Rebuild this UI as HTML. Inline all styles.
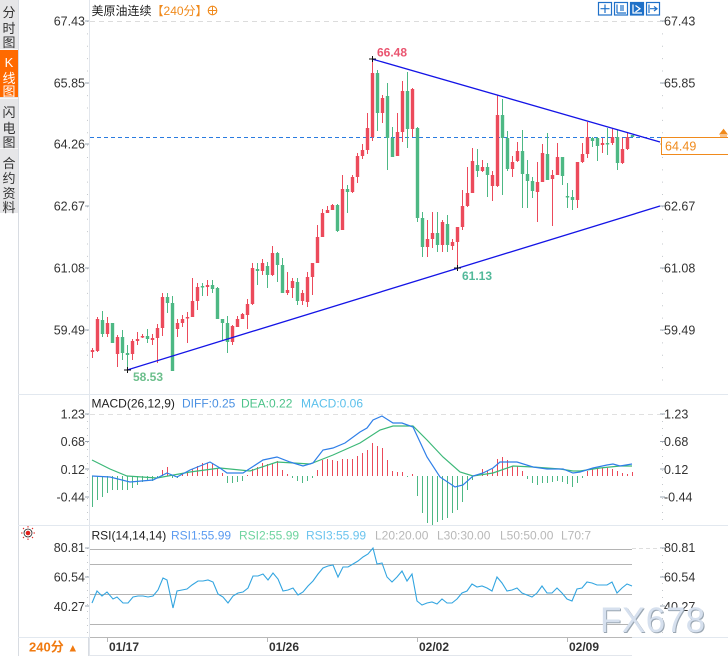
<!DOCTYPE html>
<html><head><meta charset="utf-8"><style>
html,body{margin:0;padding:0;background:#fff;width:728px;height:656px;overflow:hidden}
svg{display:block}
text{font-family:"Liberation Sans","Noto Sans CJK SC",sans-serif}
</style></head><body>
<svg width="728" height="656" viewBox="0 0 728 656" xmlns="http://www.w3.org/2000/svg">
<rect x="0" y="0" width="728" height="656" fill="#fff"/>
<!-- sidebar -->
<rect x="0" y="0" width="18" height="213" fill="#e6e6e8"/>
<rect x="0" y="50" width="18" height="47" fill="#ff6a00"/>
<path d="M0 49.5H18M0 98.5H18M0 148.5H18" stroke="#f7f7f7" stroke-width="1"/>
<line x1="18.5" y1="0" x2="18.5" y2="656" stroke="#d8dce2"/>
<g font-size="13" fill="#333" text-anchor="middle">
<text x="9" y="17">分</text><text x="9" y="33">时</text><text x="9" y="47">图</text>
<text x="9" y="67" fill="#fff" font-family="Liberation Serif,serif">K</text><text x="9" y="83" fill="#fff">线</text><text x="9" y="96" fill="#fff">图</text>
<text x="9" y="117">闪</text><text x="9" y="133">电</text><text x="9" y="147">图</text>
<text x="9" y="168">合</text><text x="9" y="183">约</text><text x="9" y="198">资</text><text x="9" y="212">料</text>
</g>
<!-- axis lines / separators -->
<line x1="89.5" y1="0" x2="89.5" y2="656" stroke="#e2e6ec"/>
<line x1="18" y1="394.5" x2="728" y2="394.5" stroke="#e2e8ef"/>
<line x1="18" y1="525.5" x2="728" y2="525.5" stroke="#e2e8ef"/>
<line x1="18" y1="637.5" x2="728" y2="637.5" stroke="#e2e8ef"/>
<line x1="90" y1="637.5" x2="632" y2="637.5" stroke="#b8b8b8"/>
<line x1="90" y1="655.5" x2="632" y2="655.5" stroke="#e2e6ec"/>
<line x1="88.5" y1="637" x2="88.5" y2="656" stroke="#d8dce2"/>
<!-- minor ticks -->
<line x1="87.5" y1="21" x2="87.5" y2="390" stroke="#c4c8cc" stroke-dasharray="1 11.36"/>
<line x1="662.5" y1="21" x2="662.5" y2="390" stroke="#c4c8cc" stroke-dasharray="1 11.36"/>
<line x1="87.5" y1="414" x2="87.5" y2="522" stroke="#c4c8cc" stroke-dasharray="1 6"/>
<line x1="662.5" y1="414" x2="662.5" y2="522" stroke="#c4c8cc" stroke-dasharray="1 6"/>
<line x1="87.5" y1="548" x2="87.5" y2="636" stroke="#c4c8cc" stroke-dasharray="1 6"/>
<line x1="662.5" y1="548" x2="662.5" y2="636" stroke="#c4c8cc" stroke-dasharray="1 6"/>
<path d="M85 21H89M85 83H89M85 144H89M85 206H89M85 268H89M85 330H89M85 414H89M85 441.5H89M85 469H89M85 497H89M85 548H89M85 577H89M85 606H89" stroke="#9aa4b0"/>
<path d="M660 21H665M660 83H665M660 144H665M660 206H665M660 268H665M660 330H665M660 414H665M660 441.5H665M660 469H665M660 497H665M660 548H665M660 577H665M660 606H665" stroke="#9aa4b0"/>
<!-- title -->
<text x="91.5" y="15" font-size="12" fill="#222">美原油连续<tspan fill="#f08a1c">【240分】</tspan></text>
<circle cx="212.5" cy="10.5" r="4.3" fill="none" stroke="#f08a1c" stroke-width="1.1"/>
<path d="M208.2 10.5H216.8M212.5 6.2V14.8" stroke="#f08a1c" stroke-width="1"/>
<!-- toolbar icons -->
<g stroke="#1e70c8" fill="none" stroke-width="1.2">
<rect x="598.5" y="2.5" width="13" height="12.5"/>
<path d="M605 4.5V13M600.5 8.7H609.5"/>
<rect x="614.5" y="2.5" width="13" height="12.5"/>
<path d="M617 4.5V13M617 13H626M621 5V11M623 5V11"/>
<rect x="630.5" y="2.5" width="13" height="12.5" fill="#1e70c8"/>
<path d="M633 4.5V13H642M635.5 5.5L640 8.7L635.5 12" stroke="#fff"/>
<rect x="646.5" y="2.5" width="13" height="12.5"/>
<path d="M649 4.5V13M650 8.7H656M654 6.5L657 8.7L654 11"/>
</g>
<!-- main grid -->
<line x1="90" y1="21.5" x2="660" y2="21.5" stroke="#dcdcdc" stroke-dasharray="5 4"/>
<line x1="90" y1="137.5" x2="661" y2="137.5" stroke="#2a7be0" stroke-dasharray="4 3"/>
<!-- main axis labels -->
<g font-size="12.5" fill="#333">
<g text-anchor="end">
<text x="85" y="25.5">67.43</text><text x="85" y="87.5">65.85</text><text x="85" y="148.5">64.26</text><text x="85" y="210.5">62.67</text><text x="85" y="272.5">61.08</text><text x="85" y="334.5">59.49</text>
<text x="85" y="418.5">1.23</text><text x="85" y="446">0.68</text><text x="85" y="474">0.12</text><text x="85" y="501.5">-0.44</text>
<text x="85" y="552">80.81</text><text x="85" y="581.5">60.54</text><text x="85" y="611">40.27</text>
</g>
<text x="664" y="25.5">67.43</text><text x="664" y="87.5">65.85</text><text x="664" y="210.5">62.67</text><text x="664" y="272.5">61.08</text><text x="664" y="334.5">59.49</text>
<text x="664" y="418.5">1.23</text><text x="664" y="446">0.68</text><text x="664" y="474">0.12</text><text x="664" y="501.5">-0.44</text>
<text x="664" y="552">80.81</text><text x="664" y="581.5">60.54</text><text x="664" y="611">40.27</text>
</g>
<!-- current price box -->
<rect x="661.5" y="137.5" width="70" height="17" fill="#fff" stroke="#f08a1c"/>
<text x="665" y="150.5" font-size="12.5" fill="#f08a1c">64.49</text>
<path d="M720 136H727M723.5 129.5L720 134H727Z" fill="#f08a1c" stroke="#f08a1c" stroke-width="1"/>
<!-- candles -->
<g stroke="#ec4a5b" fill="none">
<path stroke-width="1" d="M92.5 348V358M97.5 317V352M107.5 317V337M117.5 335V367M132.5 339V360M137.5 332V345M142.5 334V338M152.5 334V345M157.5 324V363M162.5 293V336M177.5 319V337M182.5 315V327M187.5 312V343M192.5 278V317M197.5 283V310M207.5 280V296M232.5 325V345M237.5 316V327M242.5 313V319M247.5 299V329M252.5 263V305M262.5 259V275M272.5 246V276M287.5 272V295M292.5 278V298M302.5 290V305M307.5 272V307M312.5 263V295M317.5 225V263M322.5 209V237M327.5 206V213M332.5 204V210M342.5 175V230M352.5 175V193M357.5 153V183M362.5 144V159M367.5 113V154M372.5 58V141M382.5 95V123M397.5 113V156M402.5 81V142M412.5 88V137M427.5 220V257M432.5 212V248M442.5 220V252M452.5 239V250M457.5 227V268M462.5 190V230M467.5 167V207M472.5 148V193M482.5 160V172M492.5 171V201M497.5 95V187M512.5 156V177M517.5 142V162M537.5 162V222M542.5 144V182M552.5 170V226M557.5 143V175M577.5 162V208M582.5 143V163M587.5 122V158M602.5 138V153M612.5 128V145M622.5 138V164M627.5 132V150"/>
<path stroke-width="3.4" d="M92.5 350V352M97.5 319V351M107.5 323V334M117.5 337V354M132.5 341V354M137.5 339V341M142.5 336V337.5M152.5 338V340M157.5 328V338M162.5 297V328M177.5 323V329M182.5 319V323M187.5 317V318.5M192.5 301V317M197.5 287V301M207.5 285V287M232.5 326V342M237.5 319V327M242.5 314V319M247.5 304V315M252.5 268V304M262.5 263V271M272.5 253V275M287.5 290V293M292.5 281V288M302.5 293V301M307.5 277V302M312.5 263V277M317.5 237V263M322.5 213V237M327.5 210V213M332.5 205V210M342.5 189V230M352.5 177V192M357.5 156V177M362.5 150V156M367.5 128V150M372.5 73V137M382.5 98V113M397.5 132V156M402.5 91V132M412.5 89V129M427.5 239V247M432.5 233V239M442.5 222V245M452.5 242V246M457.5 227V242M462.5 206V227M467.5 193V206M472.5 161V193M482.5 167V171M492.5 175V186M497.5 115V186M512.5 162V169M517.5 151V161M537.5 182V192M542.5 153V182M552.5 175V179M557.5 157V175M577.5 162V200M582.5 154V162M587.5 137V154M602.5 143V145M612.5 137V143M622.5 149V163M627.5 137V149"/>
</g>
<g stroke="#4db884" fill="none">
<path stroke-width="1" d="M102.5 311V337M112.5 323V343M122.5 330V360M127.5 345V370M147.5 329V343M167.5 293V313M172.5 296V371M202.5 283V296M212.5 280V293M217.5 287V319M222.5 319V340M227.5 316V353M257.5 263V285M267.5 262V288M277.5 252V282M282.5 258V293M297.5 278V305M337.5 204V232M347.5 185V213M377.5 70V131M387.5 83V170M392.5 127V157M407.5 72V148M417.5 127V222M422.5 212V257M437.5 212V252M447.5 215V252M477.5 149V177M487.5 163V197M502.5 99V195M507.5 131V171M522.5 130V208M527.5 160V208M532.5 177V198M547.5 133V180M562.5 157V185M567.5 183V208M572.5 190V210M592.5 137V147M597.5 137V161M607.5 128V155M617.5 130V170M632.5 135V137"/>
<path stroke-width="3.4" d="M102.5 320V334M112.5 323V343M122.5 337V353M127.5 353V355M147.5 336V339M167.5 297V303M172.5 303V371M202.5 286V287.5M212.5 285V289M217.5 288V319M222.5 319V323M227.5 323V342M257.5 269V271M267.5 266V275M277.5 253V265M282.5 265V293M297.5 282V301M337.5 205V231M347.5 189V192M377.5 73V113M387.5 96V138M392.5 138V157M407.5 91V129M417.5 128V218M422.5 218V247M437.5 233V245M447.5 224V245M477.5 165V171M487.5 167V175M502.5 115V138M507.5 138V169M522.5 151V174M527.5 174V181M532.5 181V191M547.5 154V180M562.5 157V176M567.5 196V197.5M572.5 197V200M592.5 138V141M597.5 138V146M607.5 143V144.5M617.5 137V163M632.5 135V137"/>
</g>
<!-- trend lines -->
<line x1="372" y1="59" x2="660" y2="142" stroke="#1414e6" stroke-width="1.3"/>
<line x1="127" y1="370" x2="660" y2="206" stroke="#1414e6" stroke-width="1.3"/>
<path d="M369 59H376M372.5 56V62M124 370H131M127.5 367V373M454 268H461M457.5 265V271" stroke="#111" stroke-width="1"/>
<text x="377" y="56.5" font-size="12" font-weight="bold" fill="#ea5570">66.48</text>
<text x="462" y="280" font-size="12" font-weight="bold" fill="#52b99a">61.13</text>
<text x="133" y="381" font-size="12" font-weight="bold" fill="#6cbf8c">58.53</text>
<!-- MACD panel -->
<text x="91.5" y="407.5" font-size="12" fill="#222">MACD(26,12,9)</text>
<text x="182" y="407.5" font-size="12" fill="#4a90e2">DIFF:0.25</text>
<text x="241" y="407.5" font-size="12" fill="#4cc38a">DEA:0.22</text>
<text x="301" y="407.5" font-size="12" fill="#5bc0eb">MACD:0.06</text>
<line x1="90" y1="414.5" x2="660" y2="414.5" stroke="#e0e0e0" stroke-dasharray="5 4"/>
<path stroke="#eb4a5a" stroke-width="1" d="M162.5 476V470M167.5 476V467M182.5 476V473M187.5 476V473M192.5 476V469M197.5 476V466M202.5 476V463M207.5 476V463M212.5 476V463M217.5 476V469M222.5 476V473M247.5 476V475M252.5 476V469M257.5 476V467M262.5 476V463M267.5 476V464M272.5 476V463M277.5 476V461M282.5 476V470M287.5 476V474M317.5 476V470M322.5 476V460M327.5 476V459M332.5 476V460M337.5 476V461M342.5 476V459M347.5 476V459M352.5 476V459M357.5 476V456M362.5 476V453M367.5 476V450M372.5 476V443M377.5 476V446M382.5 476V448M387.5 476V460M392.5 476V471M397.5 476V472M402.5 476V472M412.5 476V474M477.5 476V475M482.5 476V469M487.5 476V471M492.5 476V469M497.5 476V459M502.5 476V457M507.5 476V460M512.5 476V466M517.5 476V466M522.5 476V471M587.5 476V471M592.5 476V469M597.5 476V468M602.5 476V468M607.5 476V468M612.5 476V469M617.5 476V471M622.5 476V473M627.5 476V474M632.5 476V472"/>
<path stroke="#4db884" stroke-width="1" d="M92.5 476V507M97.5 476V500M102.5 476V497M107.5 476V493M112.5 476V490M117.5 476V490M122.5 476V490M127.5 476V490M132.5 476V488M137.5 476V485M142.5 476V482M147.5 476V481M152.5 476V481M157.5 476V478M172.5 476V478M177.5 476V478M227.5 476V483M232.5 476V483M237.5 476V482M242.5 476V481M292.5 476V478M297.5 476V481M302.5 476V483M307.5 476V481M312.5 476V478M407.5 476V477M417.5 476V496M422.5 476V513M427.5 476V523M432.5 476V525M437.5 476V522M442.5 476V520M447.5 476V518M452.5 476V513M457.5 476V510M462.5 476V502M467.5 476V490M472.5 476V480M527.5 476V479M532.5 476V483M537.5 476V485M542.5 476V483M547.5 476V483M552.5 476V482M557.5 476V481M562.5 476V482M567.5 476V484M572.5 476V487M577.5 476V483M582.5 476V478"/>
<polyline fill="none" stroke="#3cb878" stroke-width="1.2" points="92,460 110,469 127,476 157,478 190,472 220,468 250,471 277,462 310,464 333,455 360,443 380,430 393,426 413,426 427,440 443,457 460,472 473,476 493,473 513,466 533,467 560,469 573,471 580,471 600,468 620,466 632,466"/>
<polyline fill="none" stroke="#2f7fe8" stroke-width="1.2" points="92,476 110,477 130,482 153,480 167,473 177,477 190,470 210,462 220,468 227,473 243,473 263,460 277,457 290,462 303,466 313,463 323,450 333,448 345,443 360,432 367,428 373,420 382,416 393,423 402,423 413,427 427,457 440,477 455,487 463,485 473,476 483,473 493,468 500,462 517,462 533,467 547,469 563,469 573,473 580,472 593,468 607,465 613,464 620,466 632,464"/>
<!-- RSI panel -->
<g transform="translate(28,533)">
<circle r="2.3" fill="#e0201c"/><circle r="4" fill="none" stroke="#222" stroke-width="0.8"/>
<path d="M0 -7V-5.5M0 5.5V7M-7 0H-5.5M5.5 0H7M-5 -5L-4 -4M4 4L5 5M-5 5L-4 4M4 -4L5 -5" stroke="#e0201c" stroke-width="1"/>
</g>
<text x="91.5" y="539.5" font-size="12" fill="#222">RSI(14,14,14)</text>
<text x="171" y="539.5" font-size="12" fill="#5b9bf0">RSI1:55.99</text>
<text x="239" y="539.5" font-size="12" fill="#6fd4a0">RSI2:55.99</text>
<text x="306" y="539.5" font-size="12" fill="#6cc4ee">RSI3:55.99</text>
<text x="375" y="539.5" font-size="12" fill="#b8b8b8">L20:20.00</text>
<text x="437" y="539.5" font-size="12" fill="#b8b8b8">L30:30.00</text>
<text x="500" y="539.5" font-size="12" fill="#b8b8b8">L50:50.00</text>
<text x="561" y="539.5" font-size="12" fill="#b8b8b8">L70:7</text>
<line x1="632" y1="548.5" x2="662" y2="548.5" stroke="#dedede" stroke-dasharray="4 3"/>
<path d="M90 549.5H632M90 564.5H632M90 594.5H632M90 624.5H632" stroke="#b4b4b4" stroke-width="1"/>
<polyline fill="none" stroke="#33a5e0" stroke-width="1.1" points="92,603 97,591 102,596 107,592 113,599 117,597 123,603 128,603 133,597 138,596 143,596 148,597 153,596 158,590 163,578 167,580 173,608 177,591 182,590 187,589 192,585 198,581 203,581 208,580 213,582 218,594 223,597 228,603 233,596 238,593 243,592 248,588 253,576 258,576 263,574 268,580 273,573 278,579 283,591 288,590 293,588 298,595 303,592 308,586 313,581 318,574 323,568 328,566 333,565 338,577 343,567 348,567 353,564 358,561 363,557 368,554 373,548 377,564 382,563 387,577 392,582 397,577 402,571 407,581 412,574 417,601 422,605 427,603 432,602 437,604 442,599 447,603 452,603 457,599 462,593 467,591 472,584 477,587 482,586 487,588 492,591 497,577 502,583 507,591 512,590 517,588 522,593 527,595 532,597 537,593 542,586 547,593 552,593 557,588 562,593 567,599 572,601 577,589 582,588 587,582 592,583 597,585 602,585 607,585 612,582 617,593 622,588 627,584 632,586"/>
<!-- x axis -->
<path d="M107.5 638V642M267.5 638V642M417.5 638V642M567.5 638V642" stroke="#b8b8b8"/>
<g font-size="12" font-weight="bold" fill="#333">
<text x="109" y="651">01/17</text><text x="269" y="651">01/26</text><text x="419" y="651">02/02</text><text x="569" y="651">02/09</text>
</g>
<text x="29" y="651.5" font-size="13" font-weight="bold" fill="#f07a10">240分 <tspan font-size="11">▲</tspan></text>
<!-- watermark -->
<text x="601" y="633" font-size="35" fill="#9aa6b2" letter-spacing="0.5">FX678</text>
<text x="600" y="632" font-size="35" fill="#d6e0ee" letter-spacing="0.5">FX678</text>
</svg>
</body></html>
